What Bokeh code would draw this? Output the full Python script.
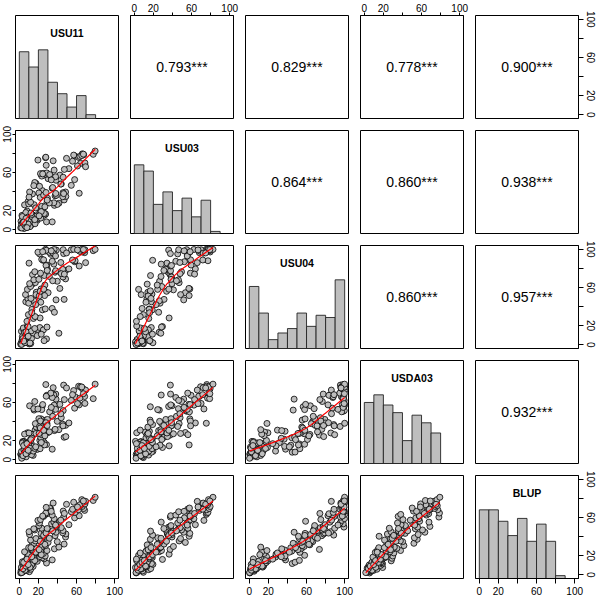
import numpy as np
from bokeh.plotting import figure
from bokeh.models import LinearAxis, FixedTicker, Range1d
from bokeh.layouts import gridplot
from bokeh.embed import file_html
from bokeh.resources import INLINE
from bokeh.core.properties import value

# ---------------- data (read / estimated from the picture) ----------------
names = ["USU11", "USU03", "USU04", "USDA03", "BLUP"]

usu11 = [1.5, 3.0, 10.5, 4.5, 1.8, 7.8, 5.5, 2.8, 12.0, 4.0, 7.5, 7.2, 8.8, 5.0, 2.2, 6.2, 14.5, 4.8, 12.5,
         12.8, 8.2, 3.5, 6.8, 28.5, 4.2, 9.0, 3.2, 18.8, 8.5, 6.5, 34.5, 9.2, 26.0, 19.2, 24.2, 14.8, 21.5, 27.2,
         8.5, 9.5, 21.8, 25.2, 16.5, 21.8, 5.5, 22.5, 29.0, 13.2, 13.8, 36.8, 17.8, 9.8, 41.5, 24.2,
         27.5, 13.5, 47.0, 15.5, 30.2, 39.8, 16.8, 11.8, 23.8, 17.5, 23.5, 48.5,
         26.5, 37.5, 24.8, 10.8, 48.8, 22.8, 45.5, 38.5, 10.2, 26.2, 45.8, 16.2, 29.5, 15.2, 23.5, 44.0, 38.8,
         38.2, 20.5, 52.0, 33.8, 21.2, 36.2, 42.5, 19.5, 22.2, 36.5, 58.0,
         46.5, 25.5, 62.8, 34.5, 27.5, 28.8, 27.8, 58.5, 54.5, 46.0, 68.5, 62.2, 33.0, 67.5, 31.8,
         28.2, 66.0, 64.2, 63.5, 68.8, 35.5, 57.0, 69.5, 77.5, 65.5, 79.5,
         2.5, 6.0, 3.8, 11.2, 7.0, 9.3, 4.6, 16.2, 8.0, 13.0, 23.0, 17.2, 20.8, 12.2, 26.8,
         22.0, 31.5, 25.5, 28.0, 35.0, 29.2, 38.0, 43.5, 24.5, 47.2, 33.5, 55.8, 61.0, 49.5, 67.2]

usu03 = [2.0, 9.5, 3.5, 2.8, 8.8, 4.2, 3.0, 15.0, 4.8, 7.5, 17.2, 8.5, 6.0, 1.2, 5.5, 12.8, 7.8, 13.0, 5.0,
         9.0, 19.5, 7.0, 18.0, 8.2, 6.5, 13.2, 13.8, 9.8, 2.5, 7.2, 8.2, 29.5, 16.2, 11.5, 18.8, 15.2, 17.8, 15.8,
         4.5, 9.5, 36.5, 14.8, 6.2, 18.5, 26.0, 12.2, 28.5, 15.5, 37.5, 25.5, 14.2, 27.0, 27.8, 41.0,
         16.5, 13.5, 31.2, 26.2, 53.5, 26.5, 47.0, 28.8, 16.8, 48.5, 24.5, 39.5,
         57.5, 35.5, 19.2, 39.5, 34.8, 58.2, 34.5, 51.8, 34.2, 17.0, 38.8, 49.5, 33.0, 46.2, 56.2, 48.0, 36.0,
         38.0, 38.5, 64.0, 54.8, 45.5, 28.2, 57.2, 73.0, 58.8, 62.5, 52.5,
         37.8, 59.0, 38.2, 43.5, 75.5, 59.5, 76.0, 77.2, 46.5, 55.0, 68.2, 75.8, 56.0, 78.5, 57.8,
         67.5, 79.5, 69.5, 76.8, 70.0, 72.2, 78.2, 66.0, 79.0, 77.8, 82.5,
         1.8, 4.0, 6.8, 3.2, 11.8, 5.8, 8.0, 10.5, 2.2, 16.0, 19.0, 22.8, 14.5, 17.5, 24.0,
         33.8, 28.0, 36.2, 39.0, 44.2, 31.0, 55.5, 47.8, 58.5, 63.2, 52.2, 71.8, 66.8, 74.8, 79.2]

usu04 = [0.5, 1.0, 0.8, 5.0, 1.5, 3.0, 5.5, 4.5, 1.2, 7.5, 3.5, 8.0, 2.5, 2.8, 14.0, 7.0, 12.0, 15.0, 14.5,
         6.5, 2.0, 4.5, 45.0, 6.0, 17.5, 48.0, 8.5, 9.5, 19.5, 52.5, 38.0, 19.0, 4.2, 16.0, 36.5, 27.5, 18.0, 37.5,
         58.0, 31.5, 28.0, 15.5, 29.5, 53.0, 13.0, 44.5, 18.5, 37.0, 73.5, 34.0, 55.0, 43.5, 12.0, 57.5,
         55.5, 63.5, 47.5, 46.0, 54.5, 66.5, 65.0, 61.0, 56.5, 52.5, 58.0, 69.0,
         51.5, 76.0, 88.5, 64.0, 78.0, 58.5, 79.0, 47.0, 85.5, 72.5, 71.0, 76.5, 79.2, 68.0, 89.5, 74.5, 99.2,
         77.5, 68.5, 79.5, 98.5, 95.2, 84.5, 59.0, 97.0, 75.0, 99.8, 87.0,
         95.5, 89.0, 82.5, 87.5, 100.0, 83.5, 98.2, 88.0, 99.5, 99.6, 96.5, 99.0, 94.8, 98.8, 96.8,
         99.0, 97.2, 97.8, 98.0, 99.5, 96.0, 100.0, 86.0, 98.6, 100.0, 99.9,
         0.3, 2.2, 6.5, 1.8, 13.5, 8.8, 3.8, 17.0, 24.5, 33.5, 11.0, 42.0, 51.0, 48.5, 62.5,
         56.0, 71.5, 58.2, 83.0, 67.0, 77.8, 93.0, 86.2, 97.5, 74.0, 98.4, 88.8, 99.4, 96.2, 99.7]

usda03 = [5.5, 2.2, 6.5, 3.8, 6.0, 9.5, 7.5, 4.8, 13.2, 6.8, 9.2, 3.0, 7.2, 19.2, 8.5, 12.5, 4.5, 10.2, 17.0,
          5.2, 8.8, 19.0, 7.8, 15.8, 18.5, 8.0, 17.5, 10.8, 28.2, 16.5, 11.0, 12.8, 18.2, 29.0, 21.5, 9.0, 20.2, 29.8,
          16.2, 17.8, 14.5, 25.2, 31.0, 11.5, 26.8, 23.0, 38.0, 14.0, 25.8, 30.5, 34.2, 15.2, 31.5, 27.2,
          41.5, 26.5, 23.5, 52.0, 28.5, 40.2, 37.8, 21.2, 55.5, 27.5, 52.5, 36.0,
          15.5, 31.8, 36.8, 56.5, 24.2, 42.8, 37.2, 63.5, 28.0, 39.2, 35.5, 61.0, 42.2, 53.5, 26.2, 44.0, 55.8,
          68.8, 43.0, 38.5, 50.8, 34.8, 67.8, 58.0, 53.2, 40.5, 57.2, 54.0,
          78.2, 35.5, 57.5, 65.2, 38.2, 67.5, 78.8, 66.0, 62.2, 51.5, 66.2, 77.0, 69.8, 73.8, 50.2,
          66.5, 74.5, 76.5, 64.5, 59.0, 75.5, 72.5, 73.0, 64.0, 76.2, 79.2,
          1.5, 8.2, 4.2, 12.0, 6.2, 9.8, 14.8, 11.8, 16.8, 22.5, 18.0, 13.5, 27.5, 21.0, 25.0,
          33.2, 29.2, 30.8, 38.8, 45.5, 35.8, 52.8, 48.2, 57.8, 63.0, 54.8, 68.2, 58.8, 75.2, 69.2]

blup = [1.8, 2.5, 3.1, 3.6, 4.0, 4.4, 4.9, 5.3, 5.7, 6.0, 6.4, 6.8, 7.1, 7.5, 7.9, 8.3, 8.7, 9.2, 9.7,
        10.3, 10.8, 11.3, 11.7, 12.2, 12.6, 13.1, 13.5, 14.0, 14.5, 15.0, 15.5, 16.0, 16.6, 17.2, 17.8, 18.4, 19.0, 19.6,
        20.3, 20.9, 21.5, 22.2, 22.8, 23.4, 24.0, 24.7, 25.3, 25.9, 26.5, 27.1, 27.7, 28.3, 28.9, 29.6,
        30.5, 31.3, 32.1, 32.9, 33.8, 34.6, 35.4, 36.3, 37.1, 37.9, 38.7, 39.5,
        40.3, 40.9, 41.5, 42.1, 42.7, 43.3, 43.9, 44.5, 45.1, 45.7, 46.3, 46.9, 47.5, 48.1, 48.7, 49.3, 49.9,
        50.6, 51.5, 52.4, 53.3, 54.2, 55.1, 56.0, 56.9, 57.8, 58.7, 59.6,
        60.4, 61.1, 61.8, 62.5, 63.2, 63.9, 64.6, 65.3, 66.0, 66.7, 67.4, 68.1, 68.8, 69.4, 69.9,
        70.6, 71.5, 72.4, 73.3, 74.2, 75.1, 76.0, 76.9, 77.8, 78.7, 81.2,
        2.2, 4.7, 6.2, 7.7, 9.0, 10.6, 12.9, 14.8, 16.3, 18.8, 21.0, 23.6, 26.2, 28.4, 31.8,
        35.0, 38.2, 41.2, 43.6, 46.0, 48.4, 52.0, 57.2, 61.5, 64.2, 66.4, 68.6, 71.0, 73.8, 77.3]

# upper-triangle correlations, row by row
corr_values = [0.793, 0.829, 0.778, 0.900, 0.864, 0.860, 0.938, 0.860, 0.957, 0.932]
corr_signif = ["***"] * 10

tick_values = [0, 20, 40, 60, 80, 100]
tick_labels = ["0", "20", "", "60", "", "100"]
hist_bin_width = 10

data = [usu11, usu03, usu04, usda03, blup]

# ---------------- helpers ----------------
def lowess(x, y, f=2/3, iters=3):
    x = np.asarray(x, float)
    y = np.asarray(y, float)
    order = np.argsort(x, kind="mergesort")
    x, y = x[order], y[order]
    n = len(x)
    ns = max(2, min(n, int(f * n + 1e-7)))
    rw = np.ones(n)
    ys = np.zeros(n)
    for it in range(iters + 1):
        for i in range(n):
            d = np.abs(x - x[i])
            h = max(np.sort(d)[ns - 1], 1e-12)
            u = d / h
            w = np.where(u < 1, (1 - u ** 3) ** 3, 0.0) * rw
            sw = w.sum()
            if sw <= 0:
                ys[i] = y[i]
                continue
            xm = (w * x).sum() / sw
            ym = (w * y).sum() / sw
            sxx = (w * (x - xm) ** 2).sum()
            if sxx > 1e-9:
                b = (w * (x - xm) * (y - ym)).sum() / sxx
                ys[i] = ym + b * (x[i] - xm)
            else:
                ys[i] = ym
        if it == iters:
            break
        res = y - ys
        cmad = 6 * np.median(np.abs(res))
        if cmad < 1e-12:
            break
        u = res / cmad
        rw = np.where(np.abs(u) < 1, (1 - u ** 2) ** 2, 0.0)
    return x, ys


FONT = "Liberation Sans"
FRAME = 103
INNER = 6
OUT_TL = 15
OUT_BR = 23
XR = (-4, 104)


def style_axis(ax, vertical, tick_out, standoff):
    ax.ticker = FixedTicker(ticks=tick_values)
    ax.major_label_overrides = {v: l for v, l in zip(tick_values, tick_labels)}
    ax.major_tick_in = 0
    ax.major_tick_out = tick_out
    ax.minor_tick_line_color = None
    ax.axis_line_color = "black"
    ax.major_tick_line_color = "black"
    ax.major_label_text_font = FONT
    ax.major_label_text_font_size = "10px"
    ax.major_label_text_color = "black"
    ax.major_label_standoff = standoff
    if vertical:
        ax.major_label_orientation = "vertical"


corr_text = {}
k = 0
for i in range(5):
    for j in range(i + 1, 5):
        corr_text[(i, j)] = f"{corr_values[k]:.3f}{corr_signif[k]}"
        k += 1

rows = []
for i in range(5):
    row = []
    for j in range(5):
        left = OUT_TL if j == 0 else INNER
        right = OUT_BR if j == 4 else INNER
        top = OUT_TL if i == 0 else INNER
        bottom = OUT_BR if i == 4 else INNER
        diag = (i == j)
        yr = Range1d(0, 1.5) if diag else Range1d(*XR)
        p = figure(width=left + FRAME + right, height=top + FRAME + bottom,
                   x_range=Range1d(*XR), y_range=yr,
                   x_axis_location=None, y_axis_location=None,
                   output_backend="svg", toolbar_location=None,
                   min_border_left=left, min_border_right=right,
                   min_border_top=top, min_border_bottom=bottom,
                   background_fill_color="white", border_fill_color="white",
                   outline_line_color="black", outline_line_width=1)
        p.grid.visible = False

        # outer axes, alternating as in R's pairs()
        if i == 0 and j % 2 == 1:
            ax = LinearAxis()
            style_axis(ax, False, 3, 1)
            p.add_layout(ax, "above")
        if i == 4 and j % 2 == 0:
            ax = LinearAxis()
            style_axis(ax, False, 5, 3)
            p.add_layout(ax, "below")
        if j == 0 and i % 2 == 1:
            ax = LinearAxis()
            style_axis(ax, True, 3, 1)
            p.add_layout(ax, "left")
        if j == 4 and i % 2 == 0:
            if diag:
                p.extra_y_ranges = {"v": Range1d(*XR)}
                ax = LinearAxis(y_range_name="v")
            else:
                ax = LinearAxis()
            style_axis(ax, True, 5, 3)
            p.add_layout(ax, "right")

        if diag:
            vals = np.asarray(data[i], float)
            top_edge = np.ceil(vals.max() / hist_bin_width) * hist_bin_width
            edges = np.arange(0, top_edge + hist_bin_width / 2, hist_bin_width)
            counts, edges = np.histogram(vals, bins=edges)
            p.quad(left=edges[:-1], right=edges[1:], bottom=0, top=counts / counts.max(),
                   fill_color="#BEBEBE", line_color="#222222", line_width=0.9)
            p.text(x=[(XR[0] + XR[1]) / 2], y=[1.24], text=[names[i]],
                   text_font=value(FONT), text_font_style="bold",
                   text_font_size="10.5px", text_align="center",
                   text_baseline="middle", text_color="black")
        elif i > j:
            xs = data[j]
            ysv = data[i]
            p.scatter(xs, ysv, size=6, fill_color="#BEBEBE", line_color="black",
                      line_width=0.8)
            lx, ly = lowess(xs, ysv)
            p.line(lx, ly, line_color="red", line_width=1.2)
        else:
            p.text(x=[(XR[0] + XR[1]) / 2], y=[(XR[0] + XR[1]) / 2],
                   text=[corr_text[(i, j)]], text_font=value(FONT),
                   text_font_size="14px", text_align="center",
                   text_baseline="middle", text_color="black")
        row.append(p)
    rows.append(row)

grid = gridplot(rows, toolbar_location=None)

open("out.html", "w").write(file_html(grid, INLINE))
